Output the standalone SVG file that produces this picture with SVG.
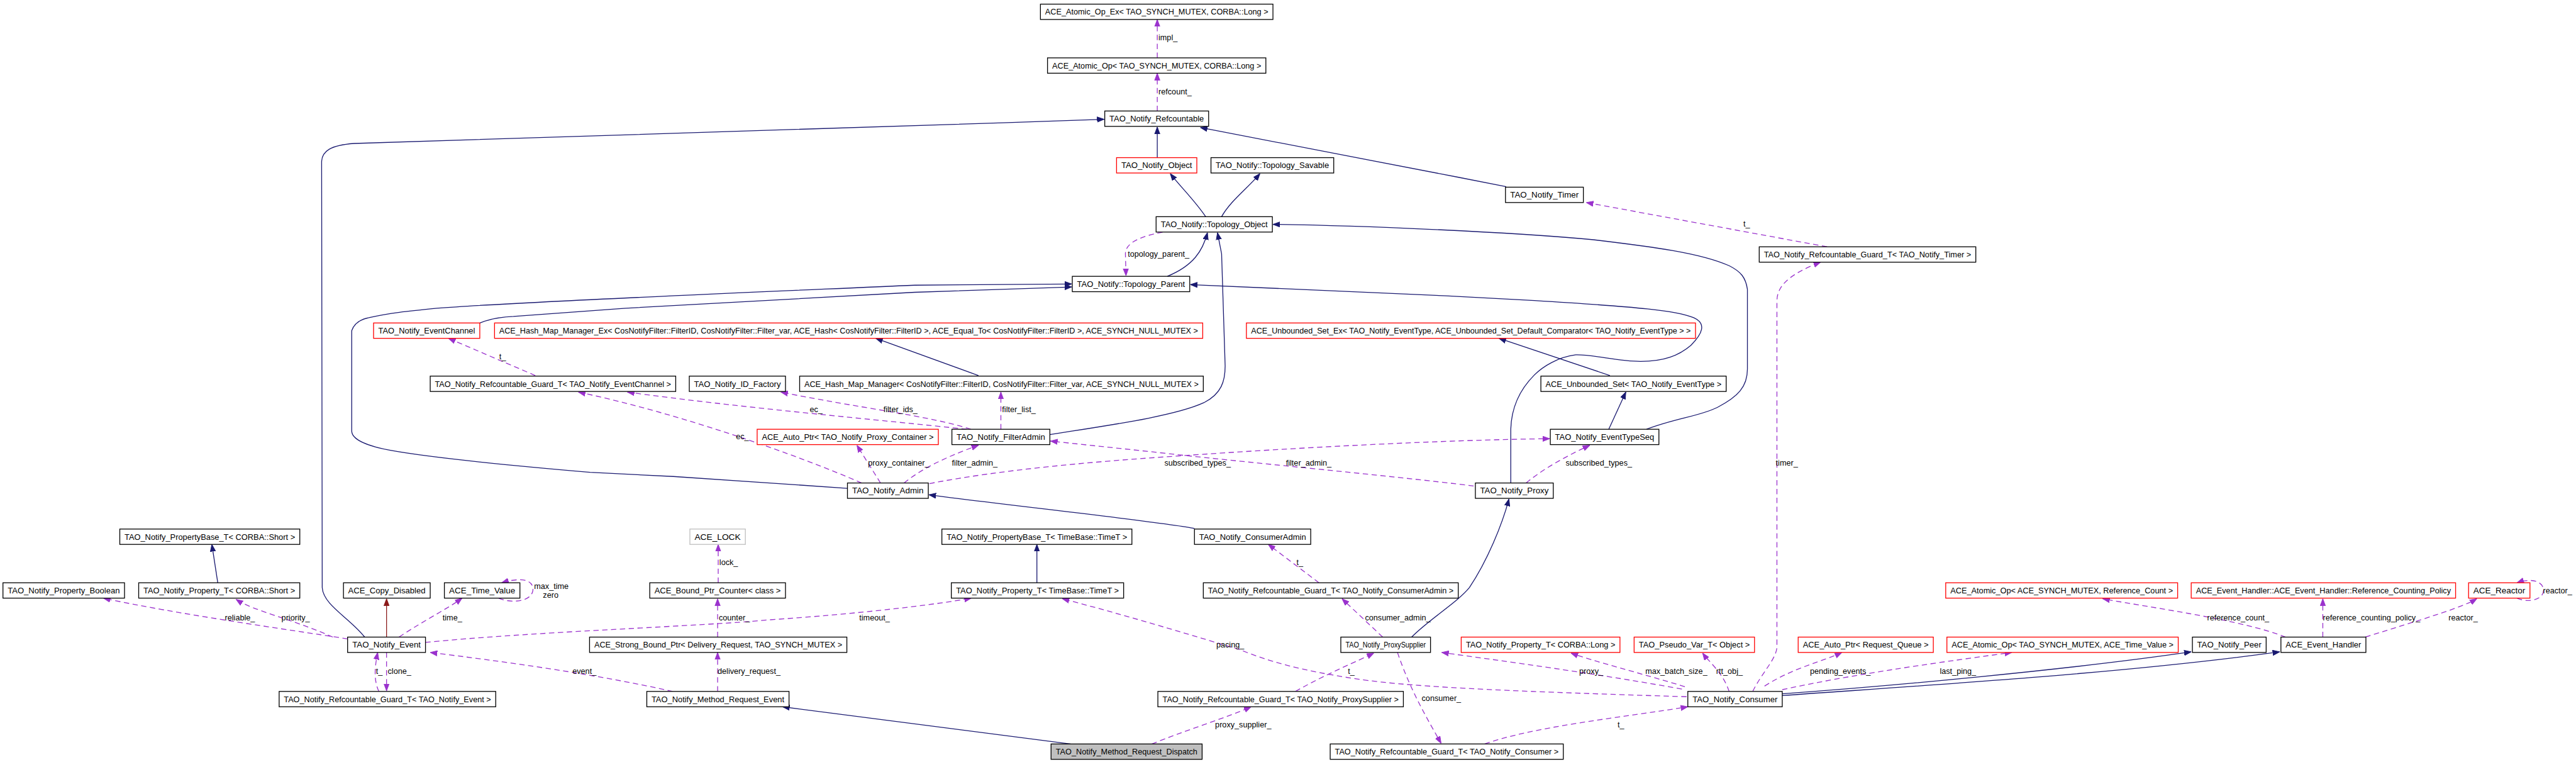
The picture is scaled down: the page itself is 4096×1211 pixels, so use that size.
<svg xmlns="http://www.w3.org/2000/svg" width="4096" height="1211" viewBox="0 0 4096 1211">
<style>
.n rect{fill:#fff;stroke:#000;stroke-width:1.4}
.n.r rect{stroke:#ff0000}
.n.g rect{stroke:#bfbfbf}
.n.s rect{fill:#bfbfbf}
.n text{font-family:"Liberation Sans",Arial,sans-serif;font-size:13.5px;text-anchor:middle;fill:#000}
.inh{fill:none;stroke:#191970;stroke-width:1.4;marker-end:url(#ab)}
.priv{fill:none;stroke:#8b1a1a;stroke-width:1.4;marker-end:url(#ar)}
.use{fill:none;stroke:#9a32cd;stroke-width:1.4;stroke-dasharray:9,6;marker-end:url(#ap)}
.lbl{font-family:"Liberation Sans",Arial,sans-serif;font-size:13.5px;fill:#000}
</style>
<defs>
<marker id="ab" markerUnits="userSpaceOnUse" markerWidth="12" markerHeight="10" refX="12" refY="5" orient="auto"><path d="M0,0.5 L12,5 L0,9.5 z" fill="#191970" stroke="#191970"/></marker>
<marker id="ar" markerUnits="userSpaceOnUse" markerWidth="12" markerHeight="10" refX="12" refY="5" orient="auto"><path d="M0,0.5 L12,5 L0,9.5 z" fill="#8b1a1a" stroke="#8b1a1a"/></marker>
<marker id="ap" markerUnits="userSpaceOnUse" markerWidth="12" markerHeight="10" refX="12" refY="5" orient="auto"><path d="M0,0.5 L12,5 L0,9.5 z" fill="#9a32cd" stroke="#9a32cd"/></marker>
</defs>
<rect width="4096" height="1211" fill="#fff"/>
<g transform="scale(0.93837)">
<g id="edges">
<path class="inh" d="M1961,267 L1961,215"/>
<path class="inh" d="M2552,316 L2470,300 L2034,216"/>
<path class="inh" d="M618,1079 C592,1046 548,1025 546,995 L545,275 C545,256 560,246 600,243 L1700,208 L1815,204 L1871,202"/>
<path class="inh" d="M2043,367 C2025,340 2000,316 1983,294"/>
<path class="inh" d="M2070,367 C2085,340 2115,318 2135,294"/>
<path class="inh" d="M1978,468 C2022,450 2038,425 2046,394"/>
<path class="inh" d="M1779,736 C1880,720 1990,705 2040,682 C2070,667 2076,645 2076,620 L2070,430 L2063,394"/>
<path class="inh" d="M2790,727 C2840,708 2880,705 2910,690 C2945,672 2961,655 2961,625 L2961,490 C2958,470 2950,460 2930,450 C2880,428 2800,418 2700,406 C2550,392 2300,382 2157,380"/>
<path class="inh" d="M1436,827 L1141,807 L1000,800 C860,788 735,776 663,763 C625,756 596,745 596,730 L596,560 C600,548 610,541 625,538 C660,530 690,527 740,522 C900,510 1300,494 1550,483 L1816,481"/>
<path class="inh" d="M813,547 C830,540 850,537 870,536 L1060,522 L1550,495 L1816,486"/>
<path class="inh" d="M2560,818 L2560,727 C2561,690 2575,660 2600,635 C2615,620 2640,605 2670,601 C2700,600 2740,612 2780,612 C2820,612 2845,602 2865,585 C2885,565 2892,548 2870,538 C2840,526 2780,520 2600,509 L2450,501 L2017,482"/>
<path class="inh" d="M1658,636 L1484,573"/>
<path class="inh" d="M2728,636 L2540,573"/>
<path class="inh" d="M2726,727 L2755,664"/>
<path class="inh" d="M2024,895 C1980,885 1700,855 1574,838"/>
<path class="inh" d="M2392,1079 C2420,1050 2470,1020 2490,995 C2520,950 2545,890 2557,845"/>
<path class="inh" d="M369,987 L359,922"/>
<path class="inh" d="M1757,987 L1757,922"/>
<path class="inh" d="M1814,1260 L1326,1197"/>
<path class="inh" d="M3020,1175 C3200,1162 3500,1135 3713,1104"/>
<path class="inh" d="M3020,1178 C3300,1158 3600,1140 3863,1104"/>
<path class="priv" d="M655,1079 L655,1014"/>
<path class="use" d="M1961,98 L1961,33"/>
<path class="use" d="M1961,188 L1961,124"/>
<path class="use" d="M1970,393 C1935,400 1907,410 1907,430 L1908,467"/>
<path class="use" d="M3096,418 L2688,343"/>
<path class="use" d="M2970,1171 C2985,1140 3011,1115 3011,1095 L3011,510 C3011,485 3030,465 3085,444"/>
<path class="use" d="M907,636 L760,573"/>
<path class="use" d="M1638,727 C1500,712 1250,690 1063,664"/>
<path class="use" d="M1645,727 C1580,705 1450,690 1323,664"/>
<path class="use" d="M1696,727 L1696,664"/>
<path class="use" d="M1460,818 C1350,770 1150,700 980,664"/>
<path class="use" d="M1492,818 L1452,754"/>
<path class="use" d="M1532,818 C1560,795 1600,775 1658,754"/>
<path class="use" d="M1575,819 C1700,795 1850,782 2000,772 C2200,758 2450,745 2626,743"/>
<path class="use" d="M2497,823 C2350,805 2100,782 1950,765 L1780,747"/>
<path class="use" d="M2586,818 C2620,790 2660,770 2694,754"/>
<path class="use" d="M1217,987 L1217,922"/>
<path class="use" d="M2235,987 L2149,922"/>
<path class="use" d="M589,1082 C480,1065 300,1040 175,1013"/>
<path class="use" d="M564,1079 C500,1050 430,1035 400,1015"/>
<path class="use" d="M676,1079 C720,1050 760,1030 783,1013"/>
<path class="use" d="M845,1013 C865,1022 900,1020 903,1000 C905,980 880,978 850,987"/>
<path class="use" d="M721,1088 C900,1070 1200,1060 1300,1050 C1450,1040 1580,1025 1646,1013"/>
<path class="use" d="M1216,1079 L1216,1014"/>
<path class="use" d="M2858,1180 C2600,1172 2400,1165 2300,1150 C2200,1135 2150,1120 2100,1100 C2000,1070 1900,1040 1800,1014"/>
<path class="use" d="M2343,1079 L2274,1014"/>
<path class="use" d="M3873,1079 C3800,1050 3650,1030 3563,1014"/>
<path class="use" d="M3936,1079 L3936,1014"/>
<path class="use" d="M4008,1079 C4100,1050 4170,1030 4197,1014"/>
<path class="use" d="M4265,1013 C4285,1022 4310,1015 4310,1000 C4310,985 4290,978 4265,987"/>
<path class="use" d="M642,1171 C632,1150 636,1125 640,1105"/>
<path class="use" d="M655,1105 L655,1170"/>
<path class="use" d="M1140,1171 C1000,1140 850,1120 729,1105"/>
<path class="use" d="M1216,1171 L1216,1105"/>
<path class="use" d="M2195,1171 C2250,1140 2300,1120 2328,1106"/>
<path class="use" d="M2368,1105 C2390,1170 2420,1220 2442,1259"/>
<path class="use" d="M2850,1167 C2700,1140 2550,1120 2443,1105"/>
<path class="use" d="M2855,1163 C2780,1140 2700,1120 2662,1106"/>
<path class="use" d="M2930,1171 C2920,1140 2895,1120 2885,1106"/>
<path class="use" d="M2990,1162 C3040,1130 3090,1120 3121,1105"/>
<path class="use" d="M3020,1168 C3150,1140 3300,1120 3409,1105"/>
<path class="use" d="M2516,1260 C2600,1230 2750,1215 2860,1197"/>
<path class="use" d="M1952,1260 C2000,1240 2080,1215 2120,1197"/>
<g class="lbl">
<text x="1963" y="68">impl_</text>
<text x="1963" y="160">refcount_</text>
<text x="1911" y="435">topology_parent_</text>
<text x="2954" y="384">t_</text>
<text x="3009" y="789">timer_</text>
<text x="846" y="609">t_</text>
<text x="1372" y="698">ec_</text>
<text x="1497" y="698">filter_ids_</text>
<text x="1698" y="698">filter_list_</text>
<text x="1247" y="744">ec_</text>
<text x="1471" y="789">proxy_container_</text>
<text x="1613" y="789">filter_admin_</text>
<text x="1973" y="789">subscribed_types_</text>
<text x="2179" y="789">filter_admin_</text>
<text x="2653" y="789">subscribed_types_</text>
<text x="1219" y="957">lock_</text>
<text x="2197" y="957">t_</text>
<text x="905" y="997">max_time</text>
<text x="920" y="1012">zero</text>
<text x="381" y="1051">reliable_</text>
<text x="477" y="1051">priority_</text>
<text x="750" y="1051">time_</text>
<text x="1218" y="1051">counter_</text>
<text x="1456" y="1051">timeout_</text>
<text x="2313" y="1051">consumer_admin_</text>
<text x="3740" y="1051">reference_count_</text>
<text x="3936" y="1051">reference_counting_policy_</text>
<text x="4149" y="1051">reactor_</text>
<text x="4309" y="1005">reactor_</text>
<text x="2061" y="1097">pacing_</text>
<text x="637" y="1141">t_</text>
<text x="657" y="1141">clone_</text>
<text x="970" y="1141">event_</text>
<text x="1216" y="1141">delivery_request_</text>
<text x="2284" y="1141">t_</text>
<text x="2676" y="1141">proxy_</text>
<text x="2788" y="1141">max_batch_size_</text>
<text x="2908" y="1141">rtt_obj_</text>
<text x="3067" y="1141">pending_events_</text>
<text x="3287" y="1141">last_ping_</text>
<text x="2409" y="1187">consumer_</text>
<text x="2059" y="1232">proxy_supplier_</text>
<text x="2741" y="1232">t_</text>
</g>
</g>
<g id="n1" class="n"><rect x="1763" y="7" width="394" height="26"/><text x="1960" y="25" textLength="378" lengthAdjust="spacingAndGlyphs">ACE_Atomic_Op_Ex&lt; TAO_SYNCH_MUTEX, CORBA::Long &gt;</text></g>
<g id="n2" class="n"><rect x="1775" y="98" width="370" height="26"/><text x="1960" y="116" textLength="354" lengthAdjust="spacingAndGlyphs">ACE_Atomic_Op&lt; TAO_SYNCH_MUTEX, CORBA::Long &gt;</text></g>
<g id="n3" class="n"><rect x="1872" y="188" width="176" height="26"/><text x="1960" y="206" textLength="160" lengthAdjust="spacingAndGlyphs">TAO_Notify_Refcountable</text></g>
<g id="n4" class="n r"><rect x="1892" y="267" width="136" height="26"/><text x="1960" y="285" textLength="120" lengthAdjust="spacingAndGlyphs">TAO_Notify_Object</text></g>
<g id="n5" class="n"><rect x="2052" y="267" width="208" height="26"/><text x="2156" y="285" textLength="192" lengthAdjust="spacingAndGlyphs">TAO_Notify::Topology_Savable</text></g>
<g id="n6" class="n"><rect x="2551" y="317" width="132" height="26"/><text x="2617" y="335" textLength="116" lengthAdjust="spacingAndGlyphs">TAO_Notify_Timer</text></g>
<g id="n7" class="n"><rect x="1959" y="367" width="197" height="26"/><text x="2057.5" y="385" textLength="181" lengthAdjust="spacingAndGlyphs">TAO_Notify::Topology_Object</text></g>
<g id="n8" class="n"><rect x="2981" y="418" width="367" height="26"/><text x="3164.5" y="436" textLength="351" lengthAdjust="spacingAndGlyphs">TAO_Notify_Refcountable_Guard_T&lt; TAO_Notify_Timer &gt;</text></g>
<g id="n9" class="n"><rect x="1817" y="468" width="199" height="26"/><text x="1916.5" y="486" textLength="183" lengthAdjust="spacingAndGlyphs">TAO_Notify::Topology_Parent</text></g>
<g id="n10" class="n r"><rect x="633" y="547" width="180" height="26"/><text x="723" y="565" textLength="164" lengthAdjust="spacingAndGlyphs">TAO_Notify_EventChannel</text></g>
<g id="n11" class="n r"><rect x="838" y="547" width="1200" height="26"/><text x="1438" y="565" textLength="1184" lengthAdjust="spacingAndGlyphs">ACE_Hash_Map_Manager_Ex&lt; CosNotifyFilter::FilterID, CosNotifyFilter::Filter_var, ACE_Hash&lt; CosNotifyFilter::FilterID &gt;, ACE_Equal_To&lt; CosNotifyFilter::FilterID &gt;, ACE_SYNCH_NULL_MUTEX &gt;</text></g>
<g id="n12" class="n r"><rect x="2112" y="547" width="761" height="26"/><text x="2492.5" y="565" textLength="745" lengthAdjust="spacingAndGlyphs">ACE_Unbounded_Set_Ex&lt; TAO_Notify_EventType, ACE_Unbounded_Set_Default_Comparator&lt; TAO_Notify_EventType &gt; &gt;</text></g>
<g id="n13" class="n"><rect x="729" y="637" width="416" height="26"/><text x="937" y="655" textLength="400" lengthAdjust="spacingAndGlyphs">TAO_Notify_Refcountable_Guard_T&lt; TAO_Notify_EventChannel &gt;</text></g>
<g id="n14" class="n"><rect x="1168" y="637" width="163" height="26"/><text x="1249.5" y="655" textLength="147" lengthAdjust="spacingAndGlyphs">TAO_Notify_ID_Factory</text></g>
<g id="n15" class="n"><rect x="1355" y="637" width="684" height="26"/><text x="1697" y="655" textLength="668" lengthAdjust="spacingAndGlyphs">ACE_Hash_Map_Manager&lt; CosNotifyFilter::FilterID, CosNotifyFilter::Filter_var, ACE_SYNCH_NULL_MUTEX &gt;</text></g>
<g id="n16" class="n"><rect x="2611" y="637" width="314" height="26"/><text x="2768" y="655" textLength="298" lengthAdjust="spacingAndGlyphs">ACE_Unbounded_Set&lt; TAO_Notify_EventType &gt;</text></g>
<g id="n17" class="n r"><rect x="1283" y="727" width="307" height="26"/><text x="1436.5" y="745" textLength="291" lengthAdjust="spacingAndGlyphs">ACE_Auto_Ptr&lt; TAO_Notify_Proxy_Container &gt;</text></g>
<g id="n18" class="n"><rect x="1613" y="727" width="166" height="26"/><text x="1696" y="745" textLength="150" lengthAdjust="spacingAndGlyphs">TAO_Notify_FilterAdmin</text></g>
<g id="n19" class="n"><rect x="2627" y="727" width="184" height="26"/><text x="2719" y="745" textLength="168" lengthAdjust="spacingAndGlyphs">TAO_Notify_EventTypeSeq</text></g>
<g id="n20" class="n"><rect x="1436" y="818" width="137" height="26"/><text x="1504.5" y="836" textLength="121" lengthAdjust="spacingAndGlyphs">TAO_Notify_Admin</text></g>
<g id="n21" class="n"><rect x="2500" y="818" width="132" height="26"/><text x="2566" y="836" textLength="116" lengthAdjust="spacingAndGlyphs">TAO_Notify_Proxy</text></g>
<g id="n22" class="n"><rect x="203" y="896" width="305" height="26"/><text x="355.5" y="914" textLength="289" lengthAdjust="spacingAndGlyphs">TAO_Notify_PropertyBase_T&lt; CORBA::Short &gt;</text></g>
<g id="n23" class="n g"><rect x="1169" y="896" width="94" height="26"/><text x="1216" y="914" textLength="78" lengthAdjust="spacingAndGlyphs">ACE_LOCK</text></g>
<g id="n24" class="n"><rect x="1596" y="896" width="322" height="26"/><text x="1757" y="914" textLength="306" lengthAdjust="spacingAndGlyphs">TAO_Notify_PropertyBase_T&lt; TimeBase::TimeT &gt;</text></g>
<g id="n25" class="n"><rect x="2024" y="896" width="197" height="26"/><text x="2122.5" y="914" textLength="181" lengthAdjust="spacingAndGlyphs">TAO_Notify_ConsumerAdmin</text></g>
<g id="n26" class="n"><rect x="5" y="987" width="206" height="26"/><text x="108" y="1005" textLength="190" lengthAdjust="spacingAndGlyphs">TAO_Notify_Property_Boolean</text></g>
<g id="n27" class="n"><rect x="235" y="987" width="273" height="26"/><text x="371.5" y="1005" textLength="257" lengthAdjust="spacingAndGlyphs">TAO_Notify_Property_T&lt; CORBA::Short &gt;</text></g>
<g id="n28" class="n"><rect x="582" y="987" width="147" height="26"/><text x="655.5" y="1005" textLength="131" lengthAdjust="spacingAndGlyphs">ACE_Copy_Disabled</text></g>
<g id="n29" class="n"><rect x="753" y="987" width="128" height="26"/><text x="817" y="1005" textLength="112" lengthAdjust="spacingAndGlyphs">ACE_Time_Value</text></g>
<g id="n30" class="n"><rect x="1101" y="987" width="230" height="26"/><text x="1216" y="1005" textLength="214" lengthAdjust="spacingAndGlyphs">ACE_Bound_Ptr_Counter&lt; class &gt;</text></g>
<g id="n31" class="n"><rect x="1612" y="987" width="292" height="26"/><text x="1758" y="1005" textLength="276" lengthAdjust="spacingAndGlyphs">TAO_Notify_Property_T&lt; TimeBase::TimeT &gt;</text></g>
<g id="n32" class="n"><rect x="2039" y="987" width="432" height="26"/><text x="2255" y="1005" textLength="416" lengthAdjust="spacingAndGlyphs">TAO_Notify_Refcountable_Guard_T&lt; TAO_Notify_ConsumerAdmin &gt;</text></g>
<g id="n33" class="n r"><rect x="3297" y="987" width="393" height="26"/><text x="3493.5" y="1005" textLength="377" lengthAdjust="spacingAndGlyphs">ACE_Atomic_Op&lt; ACE_SYNCH_MUTEX, Reference_Count &gt;</text></g>
<g id="n34" class="n r"><rect x="3713" y="987" width="448" height="26"/><text x="3937" y="1005" textLength="432" lengthAdjust="spacingAndGlyphs">ACE_Event_Handler::ACE_Event_Handler::Reference_Counting_Policy</text></g>
<g id="n35" class="n r"><rect x="4183" y="987" width="104" height="26"/><text x="4235" y="1005" textLength="88" lengthAdjust="spacingAndGlyphs">ACE_Reactor</text></g>
<g id="n36" class="n"><rect x="589" y="1079" width="132" height="26"/><text x="655" y="1097" textLength="116" lengthAdjust="spacingAndGlyphs">TAO_Notify_Event</text></g>
<g id="n37" class="n"><rect x="999" y="1079" width="436" height="26"/><text x="1217" y="1097" textLength="420" lengthAdjust="spacingAndGlyphs">ACE_Strong_Bound_Ptr&lt; Delivery_Request, TAO_SYNCH_MUTEX &gt;</text></g>
<g id="n38" class="n"><rect x="2272" y="1079" width="152" height="26"/><text x="2348" y="1097" textLength="136" lengthAdjust="spacingAndGlyphs">TAO_Notify_ProxySupplier</text></g>
<g id="n39" class="n r"><rect x="2476" y="1079" width="269" height="26"/><text x="2610.5" y="1097" textLength="253" lengthAdjust="spacingAndGlyphs">TAO_Notify_Property_T&lt; CORBA::Long &gt;</text></g>
<g id="n40" class="n r"><rect x="2769" y="1079" width="204" height="26"/><text x="2871" y="1097" textLength="188" lengthAdjust="spacingAndGlyphs">TAO_Pseudo_Var_T&lt; Object &gt;</text></g>
<g id="n41" class="n r"><rect x="3047" y="1079" width="229" height="26"/><text x="3161.5" y="1097" textLength="213" lengthAdjust="spacingAndGlyphs">ACE_Auto_Ptr&lt; Request_Queue &gt;</text></g>
<g id="n42" class="n r"><rect x="3299" y="1079" width="392" height="26"/><text x="3495" y="1097" textLength="376" lengthAdjust="spacingAndGlyphs">ACE_Atomic_Op&lt; TAO_SYNCH_MUTEX, ACE_Time_Value &gt;</text></g>
<g id="n43" class="n"><rect x="3715" y="1079" width="125" height="26"/><text x="3777.5" y="1097" textLength="109" lengthAdjust="spacingAndGlyphs">TAO_Notify_Peer</text></g>
<g id="n44" class="n"><rect x="3865" y="1079" width="144" height="26"/><text x="3937" y="1097" textLength="128" lengthAdjust="spacingAndGlyphs">ACE_Event_Handler</text></g>
<g id="n45" class="n"><rect x="473" y="1171" width="367" height="26"/><text x="656.5" y="1189" textLength="351" lengthAdjust="spacingAndGlyphs">TAO_Notify_Refcountable_Guard_T&lt; TAO_Notify_Event &gt;</text></g>
<g id="n46" class="n"><rect x="1096" y="1171" width="241" height="26"/><text x="1216.5" y="1189" textLength="225" lengthAdjust="spacingAndGlyphs">TAO_Notify_Method_Request_Event</text></g>
<g id="n47" class="n"><rect x="1962" y="1171" width="416" height="26"/><text x="2170" y="1189" textLength="400" lengthAdjust="spacingAndGlyphs">TAO_Notify_Refcountable_Guard_T&lt; TAO_Notify_ProxySupplier &gt;</text></g>
<g id="n48" class="n"><rect x="2860" y="1171" width="160" height="26"/><text x="2940" y="1189" textLength="144" lengthAdjust="spacingAndGlyphs">TAO_Notify_Consumer</text></g>
<g id="n49" class="n s"><rect x="1781" y="1260" width="256" height="26"/><text x="1909" y="1278" textLength="240" lengthAdjust="spacingAndGlyphs">TAO_Notify_Method_Request_Dispatch</text></g>
<g id="n50" class="n"><rect x="2254" y="1260" width="395" height="26"/><text x="2451.5" y="1278" textLength="379" lengthAdjust="spacingAndGlyphs">TAO_Notify_Refcountable_Guard_T&lt; TAO_Notify_Consumer &gt;</text></g>
</g>
</svg>
